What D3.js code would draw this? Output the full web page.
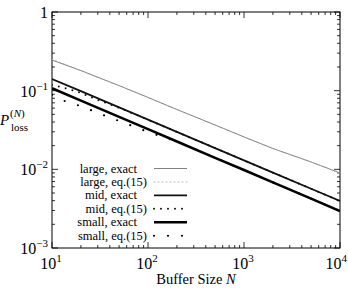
<!DOCTYPE html>
<html>
<head>
<meta charset="utf-8">
<script src="https://cdn.jsdelivr.net/npm/d3@7"></script>
<style>
  body { margin: 0; background: #fff; }
  text { font-family: "Liberation Serif", "DejaVu Serif", serif; fill: #000; }
</style>
</head>
<body>
<div id="chart"></div>
<script>
// Buffer sizes (x) for the sampled curves
const bufferSizes = [10, 20, 50, 100, 200, 500, 1000, 2000, 5000, 10000];

// exact loss probabilities
const largeExact = [0.245, 0.180, 0.116, 0.0820, 0.0576, 0.0366, 0.0258, 0.0184, 0.0124, 0.00898];
const midExact = [0.1407, 0.0985, 0.0613, 0.0428, 0.0299, 0.0186, 0.0130, 0.00909, 0.00566, 0.00396];
const smallExact = [0.1072, 0.0748, 0.0464, 0.0324, 0.0226, 0.0140, 0.0098, 0.00682, 0.00424, 0.00295];

// eq.(15) approximations (deviate a bit at small N)
const eqSizes = [10, 15, 20, 30, 50, 100, 200, 500, 1000, 2000, 5000, 10000];
const largeEq = [0.250, 0.208, 0.181, 0.146, 0.116, 0.0820, 0.0576, 0.0366, 0.0258, 0.0184, 0.0124, 0.00898];
const midEq = [0.118, 0.105, 0.0934, 0.0761, 0.0607, 0.0428, 0.0299, 0.0186, 0.0130, 0.00909, 0.00566, 0.00396];
const smallEq = [0.0881, 0.0697, 0.0638, 0.0520, 0.0412, 0.0298, 0.0226, 0.0140, 0.0098, 0.00682, 0.00424, 0.00295];

const legendLabels = ["large, exact", "large, eq.(15)", "mid, exact", "mid, eq.(15)", "small, exact", "small, eq.(15)"];

const xTicks = [10, 100, 1000, 10000];
const xTickExp = ["1", "2", "3", "4"];
const yTicks = [0.001, 0.01, 0.1, 1];
const yTickExp = ["\u22123", "\u22122", "\u22121", ""];

// line styles for each series
const styles = [
  { color: "#808080", width: 1, dash: null },
  { color: "#a8a8a8", width: 0.8, dash: "1,3" },
  { color: "#111", width: 1.8, dash: null },
  { color: "#111", width: 2, dash: "0,7" },
  { color: "#000", width: 2.6, dash: null },
  { color: "#000", width: 2.2, dash: "0,14" },
];
const seriesList = [
  { xs: bufferSizes, ys: largeExact },
  { xs: eqSizes, ys: largeEq },
  { xs: bufferSizes, ys: midExact },
  { xs: eqSizes, ys: midEq },
  { xs: bufferSizes, ys: smallExact },
  { xs: eqSizes, ys: smallEq },
];

const width = 348, height = 290;
const plot = { left: 52, right: 340, top: 12, bottom: 248 };

const svg = d3.select("#chart").append("svg")
  .attr("width", width)
  .attr("height", height);

const x = d3.scaleLog().domain([10, 10000]).range([plot.left, plot.right]);
const y = d3.scaleLog().domain([0.001, 1]).range([plot.bottom, plot.top]);

// frame
svg.append("rect")
  .attr("x", plot.left).attr("y", plot.top)
  .attr("width", plot.right - plot.left)
  .attr("height", plot.bottom - plot.top)
  .attr("fill", "none")
  .attr("stroke", "#000")
  .attr("stroke-width", 1);

// ticks (inward, mirrored)
const ticks = svg.append("g").attr("stroke", "#000").attr("stroke-width", 0.8);
function minorTicks(domain) {
  const out = [];
  for (let d = domain[0]; d < domain[1]; d *= 10) {
    for (let k = 2; k <= 9; k++) out.push(d * k);
  }
  return out;
}
xTicks.forEach((t) => {
  ticks.append("line").attr("x1", x(t)).attr("x2", x(t)).attr("y1", plot.bottom).attr("y2", plot.bottom - 6);
  ticks.append("line").attr("x1", x(t)).attr("x2", x(t)).attr("y1", plot.top).attr("y2", plot.top + 6);
});
minorTicks([10, 10000]).forEach((t) => {
  ticks.append("line").attr("x1", x(t)).attr("x2", x(t)).attr("y1", plot.bottom).attr("y2", plot.bottom - 3);
  ticks.append("line").attr("x1", x(t)).attr("x2", x(t)).attr("y1", plot.top).attr("y2", plot.top + 3);
});
yTicks.forEach((t) => {
  ticks.append("line").attr("x1", plot.left).attr("x2", plot.left + 6).attr("y1", y(t)).attr("y2", y(t));
  ticks.append("line").attr("x1", plot.right).attr("x2", plot.right - 6).attr("y1", y(t)).attr("y2", y(t));
});
minorTicks([0.001, 1]).forEach((t) => {
  ticks.append("line").attr("x1", plot.left).attr("x2", plot.left + 3).attr("y1", y(t)).attr("y2", y(t));
  ticks.append("line").attr("x1", plot.right).attr("x2", plot.right - 3).attr("y1", y(t)).attr("y2", y(t));
});

// tick labels
xTicks.forEach((t, i) => {
  const last = i === xTicks.length - 1;
  const lab = svg.append("text")
    .attr("x", last ? width - 1 : x(t) - 1)
    .attr("y", 269)
    .attr("text-anchor", last ? "end" : "middle")
    .style("font-size", "16px");
  lab.append("tspan").text("10");
  lab.append("tspan").attr("dy", -7).style("font-size", "11px").text(xTickExp[i]);
});
yTicks.forEach((t, i) => {
  const lab = svg.append("text")
    .attr("x", 48)
    .attr("y", y(t) + 6)
    .attr("text-anchor", "end")
    .style("font-size", "16px");
  if (t === 1) {
    lab.text("1");
  } else {
    lab.append("tspan").text("10");
    lab.append("tspan").attr("dy", -7).style("font-size", "11px").text(yTickExp[i]);
  }
});

// axis titles
const xt = svg.append("text")
  .attr("x", 196).attr("y", 284)
  .attr("text-anchor", "middle")
  .style("font-size", "14.5px");
xt.append("tspan").text("Buffer Size ");
xt.append("tspan").style("font-style", "italic").text("N");

const yl = svg.append("g");
yl.append("text").attr("x", 0).attr("y", 125)
  .style("font-size", "15px").style("font-style", "italic").text("P");
const sup = yl.append("text").attr("x", 10).attr("y", 117).style("font-size", "11px");
sup.append("tspan").text("(");
sup.append("tspan").style("font-style", "italic").text("N");
sup.append("tspan").text(")");
yl.append("text").attr("x", 11).attr("y", 131).style("font-size", "11px").text("loss");

// curves
const line = d3.line()
  .x((d) => x(d[0]))
  .y((d) => y(d[1]));

const clip = svg.append("defs").append("clipPath").attr("id", "plot-clip");
clip.append("rect")
  .attr("x", plot.left).attr("y", plot.top)
  .attr("width", plot.right - plot.left)
  .attr("height", plot.bottom - plot.top);

const curves = svg.append("g").attr("clip-path", "url(#plot-clip)");
seriesList.forEach((s, i) => {
  const st = styles[i];
  curves.append("path")
    .datum(s.xs.map((v, j) => [v, s.ys[j]]))
    .attr("d", line)
    .attr("fill", "none")
    .attr("stroke", st.color)
    .attr("stroke-width", st.width)
    .attr("stroke-linecap", st.dash ? "round" : "butt")
    .attr("stroke-dasharray", st.dash);
});

// legend
const legend = svg.append("g");
legendLabels.forEach((label, i) => {
  const st = styles[i];
  const ry = 168.5 + i * 13.45;
  const isEq = i % 2 === 1;
  legend.append("text")
    .attr("x", isEq ? 147 : 137)
    .attr("y", ry + 4)
    .attr("text-anchor", "end")
    .style("font-size", "12.5px")
    .text(label);
  legend.append("line")
    .attr("x1", 154).attr("x2", 187)
    .attr("y1", ry).attr("y2", ry)
    .attr("stroke", st.color)
    .attr("stroke-width", st.width)
    .attr("stroke-linecap", st.dash ? "round" : "butt")
    .attr("stroke-dasharray", st.dash);
});
</script>
</body>
</html>
